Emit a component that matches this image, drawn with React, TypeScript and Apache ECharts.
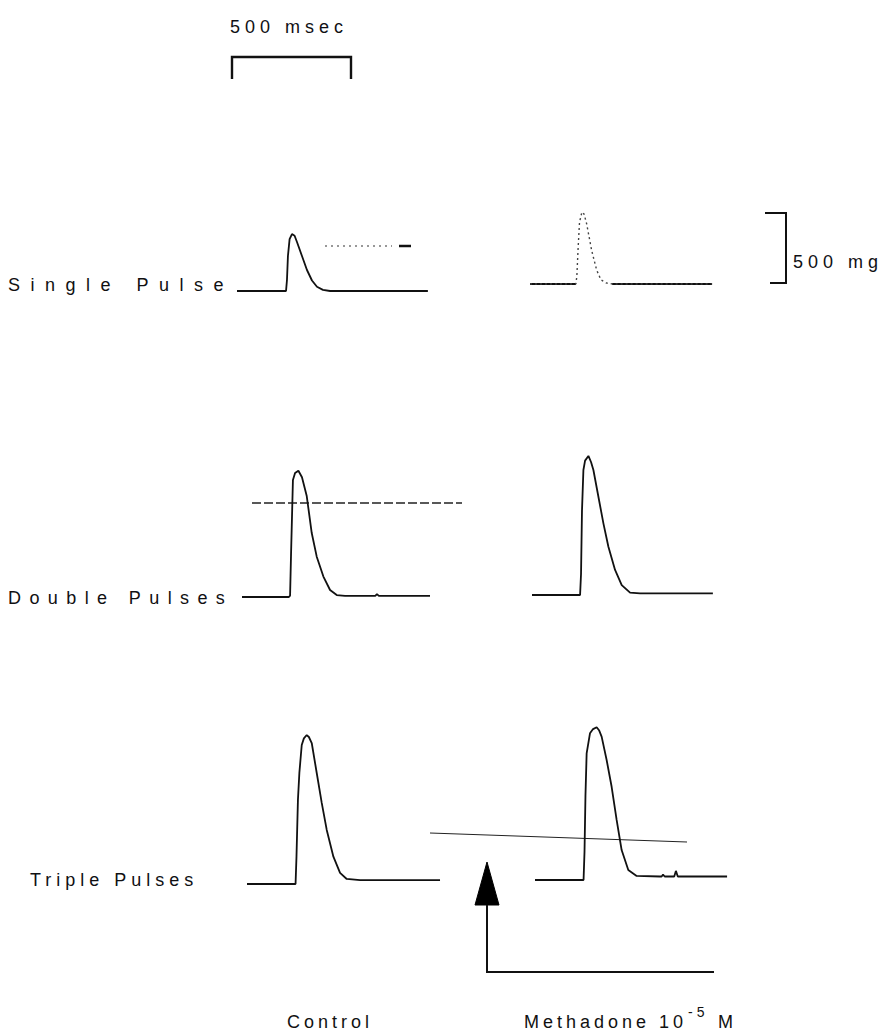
import React, { useEffect, useRef } from "react";
import * as echarts from "echarts";

// ---- scale of the recording (from the calibration bars) ----
const BAR_MS = 500; // time calibration, msec
const BAR_MG = 500; // tension calibration, mg
const PX_PER_MS = 119 / 500;
const PX_PER_MG = 70 / 500;

// ---- traces: time (msec from start of sweep) and tension (mg) ----
const C1_T = [0, 206, 210, 214, 221, 231, 242, 252, 273, 294, 315, 336, 361, 391, 802];
const C1_V = [0, 0, 80, 250, 370, 407, 395, 350, 250, 150, 75, 30, 8, 0, 0];

const M1_T = [0, 193, 197, 202, 208, 218, 227, 238, 259, 280, 298, 319, 345, 765];
const M1_V = [0, 0, 60, 250, 440, 514, 500, 430, 240, 100, 30, 8, 0, 0];

const C2_T = [0, 197, 202, 206, 214, 223, 237, 252, 272, 293, 314, 342, 370, 398, 433, 560, 567, 575, 790];
const C2_V = [0, 0, 10, 300, 835, 885, 902, 855, 721, 457, 288, 146, 50, 14, 8, 8, 20, 8, 8];

const M2_T = [0, 202, 206, 210, 216, 223, 237, 248, 258, 279, 300, 321, 349, 377, 412, 454, 760];
const M2_V = [0, 0, 150, 600, 893, 960, 993, 950, 893, 702, 512, 345, 179, 71, 17, 12, 12];

const C3_T = [0, 204, 208, 214, 220, 230, 239, 251, 260, 272, 293, 314, 335, 363, 391, 419, 475, 811];
const C3_V = [0, 0, 200, 600, 793, 993, 1040, 1064, 1050, 1007, 793, 579, 386, 195, 79, 36, 28, 28];

const M3_T = [0, 204, 208, 212, 217, 231, 244, 259, 269, 280, 301, 322, 343, 364, 392, 427, 525, 532, 538, 545, 585, 592, 600, 807];
const M3_V = [0, 0, 200, 600, 905, 1048, 1078, 1091, 1070, 1024, 857, 666, 429, 214, 71, 29, 25, 25, 38, 25, 25, 65, 25, 25];

// ---- labels ----
const ROW_LABELS = ["Single Pulse", "Double Pulses", "Triple Pulses"];
const COL_LABELS = ["Control", "Methadone 10", "-5", "M"];
const TIME_LABEL = "500 msec";
const TENSION_LABEL = "500 mg";

const Y_MAX = 1200;
const FONT = "'Liberation Sans', Arial, sans-serif";

// text colours double as hooks for per-label letter spacing
const INK = "#111111";
const INK_SINGLE = "#101011";
const INK_DOUBLE = "#101012";
const INK_TRIPLE = "#101013";
const INK_TIME = "#101014";

const spacingRule = (hex: string, px: number) => {
  const r = parseInt(hex.slice(1, 3), 16);
  const g = parseInt(hex.slice(3, 5), 16);
  const b = parseInt(hex.slice(5, 7), 16);
  const rgb = `rgb(${r},${g},${b})`;
  const rgb2 = `rgb(${r}, ${g}, ${b})`;
  return `#chart text[fill="${hex}"], #chart text[fill="${rgb}"], #chart text[fill="${rgb2}"], #chart text[style*="${rgb}"], #chart text[style*="${rgb2}"], #chart text[style*="${hex}"] { letter-spacing: ${px}px; }`;
};

const CSS = [
  "#chart text { letter-spacing: 4px; }",
  spacingRule(INK_SINGLE, 10.5),
  spacingRule(INK_DOUBLE, 8.4),
  spacingRule(INK_TRIPLE, 5),
  spacingRule(INK_TIME, 5),
].join("\n");

// layout of each sweep: left edge and baseline (px)
const TRACES = [
  { t: C1_T, v: C1_V, left: 237, base: 291, dotted: false },
  { t: M1_T, v: M1_V, left: 530, base: 284, dotted: true },
  { t: C2_T, v: C2_V, left: 242, base: 597, dotted: false },
  { t: M2_T, v: M2_V, left: 532, base: 595, dotted: false },
  { t: C3_T, v: C3_V, left: 247, base: 884, dotted: false },
  { t: M3_T, v: M3_V, left: 535, base: 880, dotted: false },
];

function buildOption() {
  const grid: any[] = [];
  const xAxis: any[] = [];
  const yAxis: any[] = [];
  const series: any[] = [];
  TRACES.forEach((tr, i) => {
    const tMax = tr.t[tr.t.length - 1];
    grid.push({
      left: tr.left,
      top: tr.base - Y_MAX * PX_PER_MG,
      width: tMax * PX_PER_MS,
      height: Y_MAX * PX_PER_MG,
    });
    xAxis.push({ type: "value", gridIndex: i, min: 0, max: tMax, show: false });
    yAxis.push({ type: "value", gridIndex: i, min: 0, max: Y_MAX, show: false });
    const data = tr.t.map((x, k) => [x, tr.v[k]]);
    if (tr.dotted) {
      const solid = tr.t.map((x, k) => (tr.v[k] === 0 ? [x, 0] : [x, null]));
      series.push({
        type: "line", xAxisIndex: i, yAxisIndex: i, data: solid, showSymbol: false,
        connectNulls: false, lineStyle: { color: "#111", width: 1.8 }, silent: true,
      });
      series.push({
        type: "line", xAxisIndex: i, yAxisIndex: i, data, showSymbol: false,
        lineStyle: { color: "#444", width: 1.4, type: [2, 3] }, silent: true,
      });
    } else {
      series.push({
        type: "line", xAxisIndex: i, yAxisIndex: i, data, showSymbol: false,
        lineStyle: { color: "#111", width: 1.8 }, silent: true,
      });
    }
  });

  const txt = (text: string, x: number, y: number, size = 18, fill = INK) => ({
    type: "text",
    x,
    y,
    style: {
      text,
      fill,
      fontSize: size,
      fontFamily: FONT,
      textAlign: "left",
      textVerticalAlign: "middle",
      align: "left",
      verticalAlign: "middle",
    },
  });

  const msLen = BAR_MS * PX_PER_MS;
  const mgLen = BAR_MG * PX_PER_MG;
  const stroke = { stroke: "#111", lineWidth: 2.4, fill: "none" };

  const graphic: any[] = [
    txt(TIME_LABEL, 230, 27, 18, INK_TIME),
    {
      type: "polyline",
      shape: { points: [[232, 79], [232, 57], [232 + msLen, 57], [232 + msLen, 79]] },
      style: stroke,
    },
    {
      type: "polyline",
      shape: { points: [[765, 213], [786, 213], [786, 213 + mgLen], [770, 213 + mgLen]] },
      style: { ...stroke, lineWidth: 2 },
    },
    txt(TENSION_LABEL, 793, 262, 18, INK_TIME),
    txt(ROW_LABELS[0], 8, 285, 18, INK_SINGLE),
    txt(ROW_LABELS[1], 8, 598, 18, INK_DOUBLE),
    txt(ROW_LABELS[2], 30, 880, 18, INK_TRIPLE),
    txt(COL_LABELS[0], 287, 1022),
    txt(COL_LABELS[1], 524, 1022),
    txt(COL_LABELS[2], 688, 1012, 14),
    txt(COL_LABELS[3], 718, 1022),
    {
      type: "line",
      shape: { x1: 252, y1: 503, x2: 462, y2: 503 },
      style: { stroke: "#222", lineWidth: 1.3, lineDash: [9, 3] },
    },
    {
      type: "line",
      shape: { x1: 430, y1: 833, x2: 687, y2: 842 },
      style: { stroke: "#222", lineWidth: 1 },
    },
    {
      type: "line",
      shape: { x1: 325, y1: 246, x2: 392, y2: 246 },
      style: { stroke: "#333", lineWidth: 1.2, lineDash: [2, 4] },
    },
    {
      type: "line",
      shape: { x1: 399, y1: 246, x2: 411, y2: 246 },
      style: { stroke: "#111", lineWidth: 2.5 },
    },
    {
      type: "polygon",
      shape: { points: [[487, 862], [475, 905], [499, 905]] },
      style: { fill: "#000", stroke: "#000", lineWidth: 1 },
    },
    {
      type: "polyline",
      shape: { points: [[487, 905], [487, 972], [714, 972]] },
      style: { stroke: "#111", lineWidth: 2, fill: "none" },
    },
  ];

  return {
    animation: false,
    backgroundColor: "#ffffff",
    grid,
    xAxis,
    yAxis,
    series,
    graphic,
  };
}

export default function App() {
  const ref = useRef<HTMLDivElement>(null);
  useEffect(() => {
    if (!ref.current) return;
    const chart = echarts.init(ref.current, null, { renderer: "svg" });
    chart.setOption(buildOption());
    return () => chart.dispose();
  }, []);
  return (
    <>
      <style>{CSS}</style>
      <div
        id="chart"
        ref={ref}
        style={{
          position: "fixed",
          left: 0,
          top: 0,
          width: 891,
          height: 1034,
          background: "#fff",
        }}
      />
    </>
  );
}
